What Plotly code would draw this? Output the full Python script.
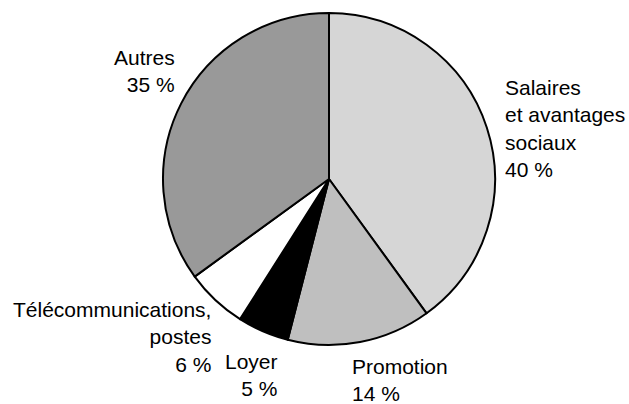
import plotly.graph_objects as go

categories = ["Salaires et avantages sociaux", "Promotion", "Loyer", "Télécommunications, postes", "Autres"]
values = [40, 14, 5, 6, 35]
label_lines = [
    ["Salaires", "et avantages", "sociaux"],
    ["Promotion"],
    ["Loyer"],
    ["Télécommunications,", "postes"],
    ["Autres"],
]
colors = ["#d6d6d6", "#bfbfbf", "#000000", "#ffffff", "#999999"]

W, H = 629, 404
fig = go.Figure(go.Pie(
    labels=categories,
    values=values,
    sort=False,
    direction="clockwise",
    rotation=0,
    textinfo="none",
    hoverinfo="label+percent",
    marker=dict(colors=colors, line=dict(color="#000000", width=2)),
    domain=dict(x=[163 / W, 495 / W], y=[1 - 345 / H, 1 - 13 / H]),
    showlegend=False,
))

# label placement (pixel positions of text anchors): x, y-center, anchor
label_pos = [
    (503, 128, "left"),
    (350, 380, "left"),
    (280, 375, "right"),
    (213, 337, "right"),
    (177, 71, "right"),
]
for lines, v, (px, py, anc) in zip(label_lines, values, label_pos):
    txt = "<br>".join(lines + [f"{v} %"])
    fig.add_annotation(
        text=txt, x=px / W, y=1 - py / H, xref="paper", yref="paper",
        xanchor=anc, yanchor="middle", align=anc, showarrow=False,
        font=dict(family="Liberation Sans, Arial, sans-serif", size=21, color="#000000"),
    )

fig.update_layout(
    width=W, height=H,
    margin=dict(l=0, r=0, t=0, b=0),
    paper_bgcolor="white", plot_bgcolor="white",
)
fig.write_html(
    "out.html",
    config={"displayModeBar": False},
    post_script="document.body.style.margin='0';document.body.style.overflow='hidden';",
)
